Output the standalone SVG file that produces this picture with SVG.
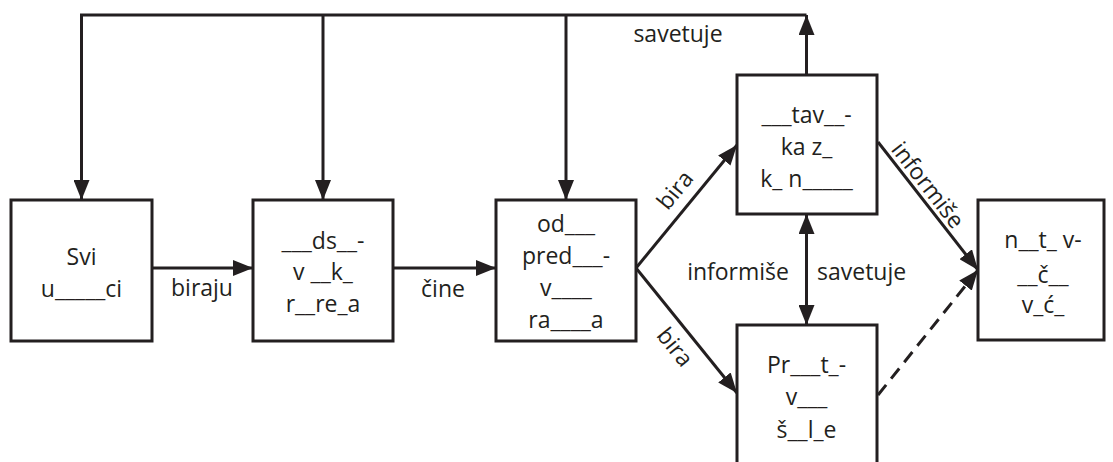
<svg xmlns="http://www.w3.org/2000/svg" width="1113" height="462" viewBox="0 0 1113 462">
<style>
.box{fill:#fff;stroke:#231f20;stroke-width:3}
.t{font-family:"Open Sans","Noto Sans","DejaVu Sans",sans-serif;font-size:23px;fill:#231f20;text-anchor:middle}
.c{fill:none;stroke:#231f20;stroke-width:3}
.d{stroke-dasharray:13 8}
</style>
<defs>
<marker id="ah" viewBox="0 0 20 16" refX="20" refY="8" markerWidth="20" markerHeight="16" markerUnits="userSpaceOnUse" orient="auto-start-reverse">
<path d="M0,0 L20,8 L0,16 z" fill="#231f20"/>
</marker>
</defs>
<g id="connectors">
<path class="c" d="M806.5,75 V15" marker-end="url(#ah)"/>
<path class="c" d="M806.5,15 H81.5 V200" marker-end="url(#ah)"/>
<path class="c" d="M323,15 V200" marker-end="url(#ah)"/>
<path class="c" d="M566,15 V200" marker-end="url(#ah)"/>
<path class="c" d="M152,268 H253" marker-end="url(#ah)"/>
<path class="c" d="M393,268 H496" marker-end="url(#ah)"/>
<path class="c" d="M636,268 L737,145" marker-end="url(#ah)"/>
<path class="c" d="M636,268 L737,393" marker-end="url(#ah)"/>
<path class="c" d="M806.5,214 V325" marker-start="url(#ah)" marker-end="url(#ah)"/>
<path class="c" d="M878,142 L978,270" marker-end="url(#ah)"/>
<path class="c d" d="M878,395 L978,270" marker-end="url(#ah)"/>
<text class="t" x="678" y="42">savetuje</text>
<text class="t" x="202" y="296">biraju</text>
<text class="t" x="443" y="297">čine</text>
<text class="t" x="789" y="280" style="text-anchor:end">informiše</text>
<text class="t" x="817" y="280" style="text-anchor:start">savetuje</text>
<text class="t" transform="translate(675,190) rotate(-50.6)" y="8">bira</text>
<text class="t" transform="translate(675,347) rotate(51)" y="8">bira</text>
<text class="t" transform="translate(928,185) rotate(52)" y="8">informiše</text>
</g>
<g id="n1">
<rect class="box" x="11" y="200" width="141" height="141"/>
<text class="t" x="81.5" y="265">Svi</text>
<text class="t" x="81.5" y="297">u_____ci</text>
</g>
<g id="n2">
<rect class="box" x="253" y="200" width="140" height="141"/>
<text class="t" x="323" y="249">___ds__-</text>
<text class="t" x="323" y="280">v __k_</text>
<text class="t" x="323" y="312">r__re_a</text>
</g>
<g id="n3">
<rect class="box" x="496" y="200" width="140" height="141"/>
<text class="t" x="566" y="232">od___</text>
<text class="t" x="566" y="264">pred___-</text>
<text class="t" x="566" y="296">v____</text>
<text class="t" x="566" y="328">ra____a</text>
</g>
<g id="n4">
<rect class="box" x="737" y="75" width="140" height="139"/>
<text class="t" x="806.5" y="123">___tav__-</text>
<text class="t" x="806.5" y="155">ka z_</text>
<text class="t" x="806.5" y="187">k_ n_____</text>
</g>
<g id="n5">
<rect class="box" x="737" y="325" width="140" height="141"/>
<text class="t" x="806.5" y="373">Pr___t_-</text>
<text class="t" x="806.5" y="405">v___</text>
<text class="t" x="806.5" y="438">š__l_e</text>
</g>
<g id="n6">
<rect class="box" x="978" y="200" width="126" height="140"/>
<text class="t" x="1043" y="248">n__t_ v-</text>
<text class="t" x="1043" y="283">__č__</text>
<text class="t" x="1043" y="313">v_ć_</text>
</g>
</svg>
